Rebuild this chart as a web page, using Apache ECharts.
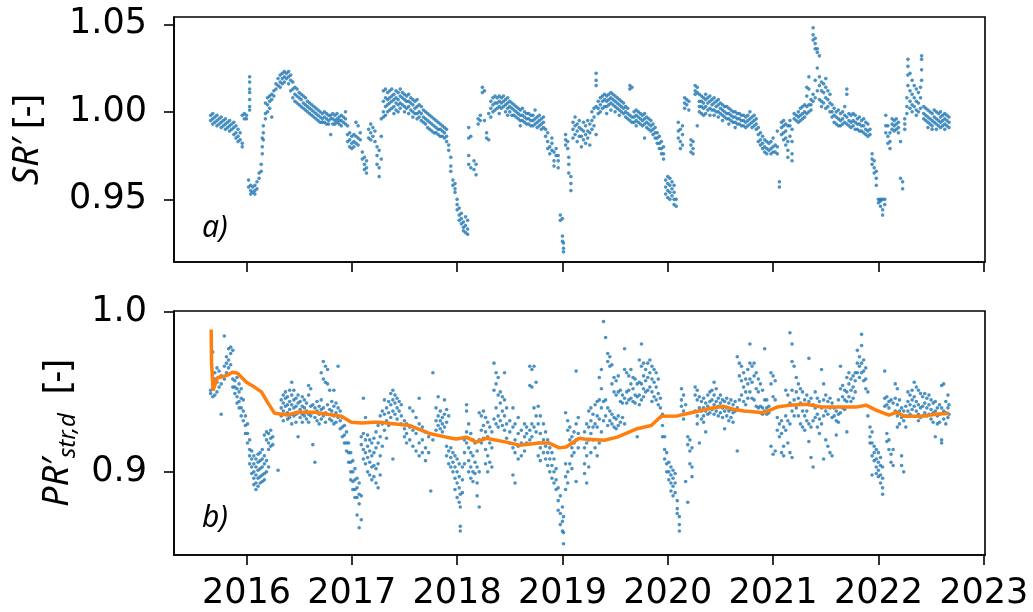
<!DOCTYPE html>
<html><head><meta charset="utf-8">
<script src="https://cdn.jsdelivr.net/npm/echarts@6/dist/echarts.min.js"></script>
<style>html,body{margin:0;padding:0;background:#fff}#c{width:1033px;height:612px}</style>
</head><body><div id="c"></div>
<script>
// ---- tick labels ----
const X_TICKS = [2016, 2017, 2018, 2019, 2020, 2021, 2022, 2023];
const SR_TICKS = [0.95, 1.00, 1.05];
const PR_TICKS = [0.9, 1.0];

// ---- SR' (top panel): rows of [decimal year, values observed at that date...] ----
const SR_2015 = [[2015.66,0.998,0.995],[2015.68,0.999,0.996,0.993],[2015.70,0.997,0.994],[2015.72,0.998,0.995,0.992],[2015.74,0.996,0.993],[2015.76,0.997,0.994,0.991],[2015.78,0.995,0.992],[2015.80,0.996,0.993,0.990],[2015.82,0.994,0.991],[2015.84,0.995,0.992,0.989],[2015.86,0.993,0.990],[2015.88,0.994,0.991,0.987],[2015.90,0.992,0.988,0.985],[2015.92,0.990,0.986,0.983],[2015.94,0.988,0.984],[2015.96,0.998,0.982,0.980],[2015.98,0.999,0.996]];
const SR_2016 = [[2016.00,0.998,0.996],[2016.02,0.961,0.957],[2016.03,1.020,1.017,1.013,1.011,1.007,1.003,1.001],[2016.04,0.958,0.955,0.953],[2016.06,0.957,0.954],[2016.08,0.958,0.955,0.953],[2016.10,0.960,0.956],[2016.12,0.965,0.962],[2016.14,0.970,0.966],[2016.15,0.985,0.980,0.976],[2016.16,0.992,0.988,0.984],[2016.18,1.005,0.999,0.996],[2016.20,1.008,1.004,1.000],[2016.22,1.009,1.006,1.002],[2016.24,1.010,1.007,0.997],[2016.26,1.012,1.009],[2016.28,1.016,1.013],[2016.30,1.019,1.015],[2016.32,1.021,1.017,1.014],[2016.34,1.022,1.019,1.016],[2016.36,1.023,1.020,1.017],[2016.38,1.022,1.019],[2016.40,1.023,1.020,1.016],[2016.42,1.021,1.018,1.012],[2016.44,1.017,1.013,1.008],[2016.46,1.014,1.010,1.006],[2016.48,1.013,1.009,1.005],[2016.50,1.011,1.008,1.004],[2016.52,1.010,1.007,1.003],[2016.54,1.009,1.005,1.002],[2016.56,1.008,1.004,1.001],[2016.58,1.006,1.003,1.000],[2016.60,1.005,1.002,0.999],[2016.62,1.004,1.001,0.998],[2016.64,1.003,1.000,0.997],[2016.66,1.002,0.999,0.996],[2016.68,1.001,0.998,0.995],[2016.70,1.000,0.997,0.994],[2016.72,0.999,0.996,0.994],[2016.74,1.000,0.997,0.994],[2016.76,0.999,0.996,0.993],[2016.78,0.998,0.995,0.993],[2016.80,0.998,0.996,0.987],[2016.82,0.999,0.996,0.993],[2016.84,0.998,0.995,0.993],[2016.86,0.999,0.996,0.994],[2016.88,0.997,0.995,0.993],[2016.90,0.998,0.995,0.992],[2016.92,0.997,0.994],[2016.94,1.000,0.996,0.993],[2016.96,0.992,0.987,0.983],[2016.98,0.988,0.984,0.980]];
const SR_2017 = [[2017.00,0.986,0.982,0.979],[2017.02,0.987,0.983,0.980],[2017.04,0.994,0.986,0.982],[2017.06,0.992,0.985,0.981],[2017.08,0.988,0.984],[2017.10,0.977,0.973],[2017.12,0.974,0.970,0.967],[2017.14,0.972,0.968,0.965],[2017.16,0.990,0.985],[2017.18,0.993,0.988,0.984],[2017.20,0.991,0.986],[2017.22,0.989,0.983],[2017.24,0.980,0.975,0.970],[2017.26,0.978,0.968,0.963],[2017.28,0.996,0.986,0.973],[2017.30,1.012,1.006,1.000,0.997],[2017.32,1.013,1.008,1.003,0.998],[2017.34,1.011,1.007,1.004,1.000],[2017.36,1.012,1.008,1.005,1.001],[2017.38,1.013,1.009,1.006,1.002],[2017.40,1.010,1.007,1.003,0.999],[2017.42,1.012,1.008,1.005,1.001],[2017.44,1.011,1.007,1.004,1.000],[2017.46,1.013,1.009,1.005,1.002],[2017.48,1.011,1.008,1.004],[2017.50,1.010,1.007,1.003,1.000],[2017.52,1.009,1.006,1.002],[2017.54,1.010,1.006,1.003,0.999],[2017.56,1.008,1.005,1.001],[2017.58,1.007,1.004,1.000,0.997],[2017.60,1.006,1.002,0.999],[2017.62,1.007,1.003,0.999,0.996],[2017.64,1.004,1.000,0.997],[2017.66,1.003,0.999,0.995],[2017.68,1.001,0.997,0.994],[2017.70,1.000,0.996,0.993],[2017.72,0.999,0.995,0.991],[2017.74,0.998,0.994,0.990],[2017.76,0.997,0.993,0.989],[2017.78,0.996,0.992,0.988],[2017.80,0.995,0.991,0.988],[2017.82,0.994,0.990,0.987],[2017.84,0.993,0.990,0.986],[2017.86,0.992,0.989,0.986],[2017.88,0.991,0.988,0.985],[2017.90,0.990,0.986,0.983],[2017.92,0.981,0.978],[2017.94,0.974,0.969,0.966],[2017.96,0.961,0.958],[2017.98,0.959,0.956,0.954]];
const SR_2018 = [[2018.00,0.950,0.947,0.944],[2018.02,0.945,0.941,0.938],[2018.04,0.942,0.939,0.936],[2018.06,0.937,0.934,0.932],[2018.08,0.940,0.935,0.931],[2018.10,0.938,0.933,0.930],[2018.11,0.991,0.985,0.975,0.970],[2018.13,0.986,0.968],[2018.16,0.972,0.967],[2018.18,0.970,0.964],[2018.20,0.996,0.993],[2018.22,0.998,0.995],[2018.24,1.014,1.011],[2018.26,1.012,0.995],[2018.28,0.988,0.985],[2018.30,0.984,0.999],[2018.32,1.006,1.002,0.997],[2018.34,1.008,1.004,1.000],[2018.36,1.009,1.005,1.001],[2018.38,1.008,1.005,1.002],[2018.40,1.009,1.006,1.003,0.999],[2018.42,1.008,1.005,1.002],[2018.44,1.009,1.006,1.003],[2018.46,1.007,1.004,1.000],[2018.48,1.008,1.005,1.002,0.998],[2018.50,1.006,1.003,1.000],[2018.52,1.005,1.002,0.998],[2018.54,1.004,1.001,0.998],[2018.56,1.003,1.000,0.997],[2018.58,1.002,0.999,0.996],[2018.60,1.001,0.998,0.995,0.992],[2018.62,1.002,0.998,0.995],[2018.64,1.000,0.997,0.994],[2018.66,0.999,0.996,0.993],[2018.68,0.999,0.996,0.993],[2018.70,0.998,0.995,0.992],[2018.72,0.998,0.995,0.992],[2018.74,1.001,0.996,0.993],[2018.76,0.997,0.994,0.991],[2018.78,0.998,0.995,0.992],[2018.80,0.996,0.993,0.990],[2018.82,0.997,0.994,0.991],[2018.84,0.990,0.986],[2018.86,0.988,0.983,0.979],[2018.88,0.980,0.976],[2018.90,0.985,0.982,0.978],[2018.92,0.977,0.972,0.969],[2018.94,0.979,0.975],[2018.96,0.975,0.972,0.968],[2018.98,0.941,0.938]];
const SR_2019 = [[2019.00,0.939,0.929,0.926],[2019.01,0.925,0.922,0.920],[2019.03,0.987,0.984,0.981],[2019.05,0.983,0.979],[2019.06,0.974,0.970,0.965],[2019.08,0.963,0.959,0.955],[2019.10,0.994,0.990,0.985],[2019.12,0.997,0.992,0.987],[2019.14,0.993,0.989,0.983],[2019.16,0.995,0.991,0.986],[2019.18,0.990,0.986,0.980],[2019.20,0.994,0.989,0.984],[2019.22,0.992,0.987,0.982],[2019.24,0.995,0.989,0.985],[2019.26,0.993,0.988,0.981],[2019.28,1.000,0.995,0.990],[2019.30,1.002,0.997,0.992],[2019.32,1.022,1.018,1.015,1.003,0.987],[2019.34,1.006,1.002,0.999],[2019.36,1.008,1.004,1.000],[2019.38,1.009,1.006,1.002],[2019.40,1.010,1.007,1.003],[2019.42,1.009,1.006,1.003,0.999],[2019.44,1.010,1.007,1.004],[2019.46,1.011,1.008,1.005,1.001],[2019.48,1.010,1.007,1.004],[2019.50,1.009,1.006,1.003,1.000],[2019.52,1.008,1.005,1.002],[2019.54,1.007,1.004,1.001,0.998],[2019.56,1.006,1.003,1.000],[2019.58,1.005,1.002,0.999],[2019.60,1.003,1.000,0.997],[2019.62,1.002,0.999,0.996],[2019.64,1.015,1.013,0.998,0.995],[2019.66,1.014,0.997,0.994],[2019.68,1.000,0.997,0.994],[2019.70,1.001,0.998,0.995,0.992],[2019.72,1.000,0.997,0.994],[2019.74,0.999,0.996,0.993],[2019.76,0.998,0.995,0.992],[2019.78,0.999,0.996,0.993,0.985],[2019.80,0.997,0.994,0.991],[2019.82,0.996,0.993,0.990],[2019.84,0.995,0.992,0.989],[2019.86,0.993,0.990,0.987],[2019.88,0.991,0.988,0.985],[2019.90,0.988,0.985,0.982],[2019.92,0.986,0.982,0.979],[2019.94,0.983,0.979,0.976],[2019.96,0.980,0.976,0.973],[2019.98,0.961,0.957,0.953]];
const SR_2020 = [[2020.00,0.963,0.959,0.955,0.951],[2020.02,0.962,0.958,0.954,0.950],[2020.04,0.960,0.956,0.952],[2020.06,0.958,0.954,0.950,0.947],[2020.08,0.950,0.946],[2020.10,0.994,0.989,0.985],[2020.12,0.990,0.983,0.979],[2020.14,0.992,0.987,0.981],[2020.16,1.008,1.005,1.002],[2020.18,1.007,1.004],[2020.20,1.006,1.001],[2020.22,0.984,0.981,0.977],[2020.24,0.983,0.979,0.976],[2020.26,1.015,1.012,1.010],[2020.28,1.014,1.011,0.992],[2020.30,1.010,1.006,1.003,1.000],[2020.32,1.009,1.006,1.003,0.999],[2020.34,1.008,1.005,1.002,0.998],[2020.36,1.010,1.007,1.003,0.999],[2020.38,1.008,1.005,1.001],[2020.40,1.009,1.006,1.002,0.998],[2020.42,1.007,1.004,1.001],[2020.44,1.008,1.005,1.001,0.998],[2020.46,1.006,1.003,1.000],[2020.48,1.007,1.004,1.000,0.997],[2020.50,1.005,1.002,0.999],[2020.52,1.004,1.001,0.998,0.995],[2020.54,1.003,1.000,0.997],[2020.56,1.003,0.999,0.996],[2020.58,1.002,0.999,0.996,0.993],[2020.60,1.001,0.998,0.995],[2020.62,1.000,0.997,0.994],[2020.64,1.000,0.997,0.994,0.991],[2020.66,0.999,0.996,0.993],[2020.68,0.999,0.996,0.993],[2020.70,0.998,0.995,0.992],[2020.72,0.998,0.995,0.992],[2020.74,0.997,0.994,0.991],[2020.76,0.998,0.995,0.992],[2020.78,1.000,0.996,0.993],[2020.80,0.997,0.994,0.991],[2020.82,0.998,0.995,0.992],[2020.84,0.996,0.993,0.990],[2020.86,0.991,0.987,0.983],[2020.88,0.988,0.984,0.981],[2020.90,0.986,0.982,0.979],[2020.92,0.984,0.980,0.977],[2020.94,0.983,0.979,0.976],[2020.96,0.982,0.978],[2020.98,0.983,0.979,0.976]];
const SR_2021 = [[2021.00,0.985,0.980,0.977],[2021.02,0.981,0.977],[2021.04,0.989,0.980,0.976],[2021.06,0.960,0.957],[2021.08,0.994,0.991,0.987],[2021.10,0.995,0.992,0.988,0.984],[2021.12,0.993,0.989,0.985,0.981],[2021.14,0.992,0.983,0.978,0.974],[2021.16,0.995,0.992,0.986],[2021.18,0.990,0.983,0.976,0.972],[2021.20,0.999,0.996],[2021.22,0.998,0.995],[2021.24,1.000,0.997,0.994],[2021.26,1.002,0.998,0.995],[2021.28,1.003,0.999,0.996],[2021.30,1.004,1.000,0.997],[2021.32,1.014,1.009,1.003,0.999],[2021.34,1.020,1.013,1.004,1.000],[2021.36,1.007,1.004,1.001],[2021.38,1.048,1.044,1.041,1.010,1.006],[2021.40,1.042,1.039,1.036,1.018,1.008],[2021.42,1.036,1.034,1.025,1.012],[2021.44,1.032,1.020,1.015,1.007],[2021.46,1.017,1.012,1.006,1.003],[2021.48,1.016,1.011,1.005],[2021.50,1.019,1.014,1.008,1.002],[2021.52,1.012,1.007,1.003],[2021.54,1.010,1.005,1.000],[2021.56,1.004,1.000,0.997],[2021.58,1.002,0.998,0.994],[2021.60,1.000,0.997,0.993],[2021.62,1.001,0.996,0.992],[2021.64,0.999,0.995,0.992],[2021.66,1.000,0.996,0.993],[2021.68,1.003,0.998,0.994],[2021.70,1.013,1.010,0.997,0.993],[2021.72,0.999,0.995,0.992],[2021.74,0.998,0.994,0.991],[2021.76,0.999,0.995,0.992],[2021.78,0.998,0.994,0.990],[2021.80,0.996,0.993,0.990],[2021.82,0.997,0.993,0.989],[2021.84,0.995,0.992,0.989],[2021.86,0.996,0.992,0.988],[2021.88,0.994,0.990,0.987],[2021.90,0.993,0.989,0.986],[2021.92,0.990,0.987],[2021.94,0.976,0.973,0.970],[2021.96,0.972,0.968,0.965],[2021.98,0.966,0.962,0.958]];
const SR_2022 = [[2022.00,0.950,0.948],[2022.02,0.950,0.949,0.946],[2022.04,0.950,0.944,0.941],[2022.06,0.950,0.947],[2022.07,0.998,0.992,0.988],[2022.09,0.992,0.986,0.982],[2022.11,0.988,0.983,0.979],[2022.13,0.996,0.993,0.990],[2022.15,0.995,0.992,0.989],[2022.17,0.996,0.993,0.990],[2022.19,0.994,0.991,0.988],[2022.21,0.983,0.962],[2022.23,0.960,0.956],[2022.25,0.996,0.993,0.990],[2022.27,1.008,1.003,0.999],[2022.28,1.030,1.026,1.021,1.015],[2022.30,1.022,1.012,1.006,1.002],[2022.32,1.018,1.010,1.004,1.000],[2022.34,1.015,1.008,1.003],[2022.36,1.013,1.006,1.001,0.998],[2022.38,1.011,1.005,1.000],[2022.40,1.014,1.008,1.002],[2022.41,1.032,1.030,1.024,1.018],[2022.43,1.003,0.999,0.996],[2022.45,1.002,0.998,0.995],[2022.47,1.001,0.997,0.994,0.991],[2022.49,1.000,0.996,0.993],[2022.51,0.999,0.995,0.992,0.990],[2022.53,1.001,0.997,0.994],[2022.55,1.000,0.996,0.993,0.990],[2022.57,0.999,0.995,0.992],[2022.59,1.000,0.997,0.994,0.991],[2022.61,0.998,0.995,0.992],[2022.63,0.999,0.996,0.993,0.990],[2022.65,0.998,0.995,0.992],[2022.67,0.997,0.994,0.991]];

// ---- PR'str,d (bottom panel) ----
const PR_2015 = [[2015.66,0.951,0.949],[2015.68,0.975,0.952,0.947],[2015.70,0.962,0.958,0.948],[2015.72,0.965,0.956,0.950],[2015.74,0.963,0.959,0.953],[2015.76,0.960,0.955,0.936],[2015.79,0.985,0.966,0.958],[2015.81,0.972,0.968,0.962],[2015.83,0.977,0.970,0.965],[2015.85,0.978,0.974,0.967],[2015.87,0.976,0.958,0.953],[2015.89,0.957,0.953,0.949],[2015.91,0.959,0.952,0.947,0.943],[2015.93,0.955,0.950,0.944,0.940],[2015.95,0.952,0.946,0.940,0.935],[2015.97,0.945,0.938,0.932],[2015.99,0.935,0.929,0.924]];
const PR_2016 = [[2016.01,0.930,0.924,0.918],[2016.03,0.920,0.914,0.910,0.905],[2016.05,0.913,0.908,0.903,0.899],[2016.07,0.910,0.905,0.900,0.896,0.892],[2016.09,0.908,0.903,0.898,0.893,0.889],[2016.11,0.911,0.906,0.901,0.896,0.891],[2016.13,0.912,0.907,0.902,0.897,0.893],[2016.15,0.914,0.908,0.903,0.898,0.894],[2016.17,0.923,0.910,0.905,0.899,0.895],[2016.19,0.925,0.920,0.907,0.900],[2016.21,0.924,0.918,0.914,0.903],[2016.23,0.926,0.921,0.916],[2016.25,0.922,0.917],[2016.30,0.901],[2016.33,0.945,0.940,0.935],[2016.35,0.948,0.943,0.938,0.932],[2016.37,0.950,0.946,0.941,0.936],[2016.39,0.947,0.942,0.937,0.933],[2016.41,0.951,0.944,0.939,0.934],[2016.43,0.956,0.948,0.942,0.936,0.930],[2016.45,0.951,0.945,0.940,0.935],[2016.47,0.946,0.941,0.936,0.931],[2016.49,0.948,0.943,0.937,0.922],[2016.51,0.944,0.939,0.934],[2016.53,0.947,0.941,0.936,0.931],[2016.55,0.945,0.940,0.935],[2016.57,0.943,0.938,0.933],[2016.59,0.954,0.948,0.936,0.931],[2016.61,0.952,0.941,0.935],[2016.63,0.942,0.937,0.917],[2016.65,0.940,0.934,0.906],[2016.67,0.944,0.938,0.932],[2016.69,0.941,0.936,0.930],[2016.71,0.962,0.945,0.939,0.933],[2016.73,0.969,0.958,0.940,0.935],[2016.75,0.966,0.956,0.937,0.931],[2016.77,0.964,0.955,0.942,0.936],[2016.79,0.951,0.939,0.933],[2016.81,0.944,0.938,0.932],[2016.83,0.951,0.941,0.935,0.930],[2016.85,0.943,0.937,0.931],[2016.87,0.966,0.940,0.934],[2016.89,0.938,0.932,0.927],[2016.91,0.934,0.928,0.922],[2016.93,0.929,0.923,0.918],[2016.95,0.925,0.918,0.913],[2016.97,0.918,0.912,0.906],[2016.99,0.912,0.906,0.900,0.895]];
const PR_2017 = [[2017.01,0.907,0.900,0.894,0.889],[2017.03,0.902,0.895,0.889,0.884],[2017.05,0.896,0.890,0.884,0.873],[2017.07,0.893,0.886,0.880,0.865],[2017.09,0.922,0.917,0.885,0.870],[2017.11,0.946,0.924,0.914,0.908],[2017.13,0.934,0.920,0.912,0.905],[2017.15,0.923,0.916,0.909,0.900],[2017.17,0.920,0.913,0.906,0.898],[2017.19,0.918,0.910,0.903,0.895],[2017.21,0.921,0.912,0.904,0.897],[2017.23,0.925,0.915,0.902,0.893],[2017.25,0.929,0.918,0.905,0.890],[2017.27,0.935,0.922,0.910,0.898],[2017.29,0.938,0.930,0.916],[2017.31,0.945,0.936,0.926],[2017.33,0.940,0.932,0.921],[2017.35,0.944,0.937,0.929],[2017.37,0.949,0.942,0.934],[2017.39,0.951,0.945,0.938,0.908],[2017.41,0.948,0.943,0.936],[2017.43,0.946,0.940,0.933],[2017.45,0.944,0.938],[2017.47,0.942,0.935,0.930],[2017.50,0.932,0.927,0.922],[2017.52,0.930,0.924,0.918],[2017.55,0.940,0.928,0.920],[2017.58,0.938,0.926,0.916],[2017.61,0.934,0.924,0.913],[2017.64,0.946,0.930,0.918,0.910],[2017.67,0.928,0.920,0.912],[2017.70,0.925,0.915,0.907],[2017.73,0.922,0.912],[2017.75,0.888],[2017.77,0.962,0.920],[2017.80,0.940,0.932,0.926],[2017.82,0.947,0.935,0.929],[2017.84,0.938,0.932,0.927],[2017.86,0.934,0.930,0.925],[2017.88,0.945,0.936,0.928],[2017.90,0.939,0.931,0.916,0.910],[2017.92,0.935,0.913,0.905],[2017.94,0.915,0.909,0.903],[2017.96,0.912,0.906,0.900],[2017.98,0.910,0.903,0.896,0.889]];
const PR_2018 = [[2018.00,0.908,0.900,0.893,0.884],[2018.02,0.905,0.897,0.890,0.881],[2018.03,0.886,0.878,0.866,0.863],[2018.05,0.903,0.895,0.887],[2018.07,0.920,0.912,0.905],[2018.09,0.942,0.938,0.925,0.918],[2018.11,0.930,0.915,0.907,0.900],[2018.13,0.924,0.912,0.903,0.896],[2018.15,0.920,0.910,0.900,0.894],[2018.17,0.918,0.906,0.899],[2018.19,0.913,0.903,0.893,0.885],[2018.21,0.937,0.920,0.900,0.878],[2018.23,0.935,0.926,0.918],[2018.25,0.938,0.929,0.921],[2018.27,0.934,0.925,0.914,0.905],[2018.29,0.931,0.922,0.910,0.900],[2018.31,0.928,0.918,0.906],[2018.33,0.925,0.915,0.903],[2018.35,0.968,0.951,0.933],[2018.37,0.962,0.955,0.940,0.930],[2018.39,0.959,0.948,0.935,0.928],[2018.41,0.950,0.943,0.932],[2018.43,0.947,0.938,0.929],[2018.45,0.962,0.945,0.935,0.926],[2018.47,0.940,0.930,0.921],[2018.50,0.932,0.925,0.918],[2018.53,0.940,0.928,0.915,0.898],[2018.55,0.930,0.920,0.912,0.893],[2018.58,0.934,0.924,0.916,0.908],[2018.61,0.926,0.918,0.910],[2018.64,0.930,0.922,0.913],[2018.66,0.928,0.924,0.918],[2018.69,0.966,0.954,0.926,0.920],[2018.71,0.964,0.953,0.930,0.922],[2018.73,0.966,0.940,0.928],[2018.75,0.956,0.935,0.925],[2018.77,0.941,0.930,0.918,0.910],[2018.79,0.935,0.924,0.915,0.907],[2018.82,0.930,0.920,0.912],[2018.84,0.925,0.916,0.908],[2018.86,0.920,0.912,0.904],[2018.88,0.915,0.908,0.900],[2018.90,0.912,0.904,0.896],[2018.92,0.908,0.900,0.893],[2018.94,0.902,0.895,0.889],[2018.96,0.890,0.882,0.876],[2018.98,0.885,0.874,0.867]];
const PR_2019 = [[2019.00,0.878,0.869,0.863],[2019.01,0.872,0.862,0.855],[2019.03,0.937,0.905,0.897,0.889],[2019.05,0.932,0.926,0.900,0.893],[2019.07,0.928,0.920,0.905],[2019.09,0.922,0.915,0.910,0.902],[2019.11,0.925,0.918,0.912],[2019.13,0.963,0.930,0.920,0.894],[2019.15,0.934,0.924,0.915],[2019.21,0.925,0.915,0.905,0.899],[2019.23,0.930,0.918,0.910,0.893],[2019.25,0.938,0.928,0.920,0.903],[2019.27,0.940,0.932,0.924,0.912],[2019.29,0.936,0.928,0.920],[2019.31,0.942,0.930,0.915],[2019.33,0.944,0.935,0.928,0.910],[2019.35,0.959,0.945,0.933,0.918],[2019.37,0.964,0.952,0.940,0.925],[2019.39,0.994,0.944,0.932],[2019.41,0.984,0.945,0.935],[2019.43,0.974,0.969,0.940,0.929],[2019.45,0.972,0.966,0.938,0.932],[2019.47,0.967,0.955,0.936,0.930],[2019.49,0.959,0.950,0.934,0.928],[2019.51,0.957,0.948,0.933,0.927],[2019.53,0.960,0.950,0.935,0.929],[2019.55,0.951,0.944,0.931],[2019.57,0.948,0.943,0.934],[2019.59,0.977,0.964,0.946,0.930],[2019.61,0.962,0.950,0.943],[2019.63,0.960,0.951,0.945],[2019.65,0.964,0.955,0.946],[2019.67,0.959,0.952,0.944],[2019.69,0.958,0.948,0.943],[2019.71,0.955,0.947,0.922],[2019.73,0.970,0.956,0.948,0.942],[2019.75,0.980,0.966,0.955,0.945],[2019.77,0.968,0.960,0.952,0.947],[2019.79,0.964,0.957,0.950],[2019.81,0.968,0.959,0.951],[2019.83,0.970,0.962,0.953],[2019.85,0.966,0.958,0.950,0.944],[2019.87,0.964,0.956,0.947],[2019.89,0.962,0.953,0.945],[2019.91,0.958,0.949,0.942],[2019.93,0.946,0.940,0.934],[2019.95,0.936,0.929,0.922],[2019.97,0.922,0.914,0.908],[2019.99,0.912,0.905,0.900]];
const PR_2020 = [[2020.01,0.906,0.900,0.895],[2020.03,0.903,0.898,0.893,0.888],[2020.05,0.901,0.896,0.891,0.885],[2020.07,0.899,0.893,0.887],[2020.09,0.882,0.877,0.874],[2020.11,0.872,0.867,0.863],[2020.13,0.952,0.945,0.941],[2020.15,0.948,0.938,0.933],[2020.17,0.942,0.894],[2020.19,0.881,0.922,0.917],[2020.21,0.920,0.913,0.905],[2020.23,0.915,0.903,0.897],[2020.26,0.953,0.948,0.938],[2020.28,0.951,0.945,0.935,0.930],[2020.30,0.947,0.940,0.918],[2020.32,0.944,0.938,0.933],[2020.34,0.946,0.940,0.935,0.931],[2020.36,0.943,0.938,0.925],[2020.38,0.948,0.941,0.936],[2020.40,0.950,0.944,0.937],[2020.42,0.951,0.945,0.939],[2020.44,0.956,0.948,0.942,0.936],[2020.46,0.952,0.944,0.938],[2020.48,0.946,0.941,0.935],[2020.50,0.948,0.943,0.937],[2020.52,0.945,0.940,0.934],[2020.54,0.944,0.938,0.927],[2020.56,0.946,0.940,0.935],[2020.58,0.943,0.938,0.932],[2020.60,0.945,0.939,0.934],[2020.62,0.942,0.937,0.931],[2020.64,0.944,0.938],[2020.66,0.972,0.940,0.913],[2020.68,0.968,0.960,0.945],[2020.70,0.966,0.957,0.948],[2020.72,0.962,0.953,0.944],[2020.74,0.958,0.950,0.942],[2020.76,0.964,0.955,0.946],[2020.78,0.980,0.968,0.958,0.950],[2020.80,0.966,0.956,0.946],[2020.82,0.968,0.960,0.945],[2020.84,0.962,0.952,0.941],[2020.86,0.958,0.950,0.940],[2020.88,0.955,0.941,0.937],[2020.90,0.951,0.940,0.936],[2020.92,0.977,0.945,0.938],[2020.94,0.945,0.940,0.936],[2020.96,0.941,0.937],[2020.98,0.962,0.955,0.916]];
const PR_2021 = [[2021.00,0.960,0.947,0.911],[2021.02,0.957,0.945,0.913],[2021.04,0.934,0.926],[2021.06,0.930,0.922],[2021.08,0.932,0.924,0.912],[2021.10,0.928,0.916,0.910],[2021.12,0.951,0.935,0.926],[2021.14,0.948,0.932,0.918],[2021.16,0.987,0.943,0.930,0.912],[2021.18,0.980,0.969,0.951,0.938,0.909],[2021.20,0.966,0.945,0.935],[2021.22,0.959,0.950,0.940],[2021.24,0.955,0.946,0.935],[2021.26,0.952,0.943,0.930],[2021.28,0.950,0.938,0.928],[2021.30,0.945,0.935,0.926],[2021.32,0.948,0.938,0.932],[2021.34,0.971,0.944,0.930,0.919],[2021.36,0.946,0.928,0.909],[2021.38,0.942,0.932,0.903],[2021.40,0.950,0.940,0.934],[2021.42,0.946,0.936,0.928],[2021.44,0.944,0.933,0.924],[2021.46,0.964,0.940,0.930],[2021.48,0.955,0.945,0.935,0.908],[2021.50,0.948,0.938,0.920],[2021.52,0.944,0.936,0.916],[2021.54,0.946,0.940,0.912],[2021.56,0.943,0.934,0.910],[2021.58,0.940,0.935],[2021.60,0.938,0.932,0.923],[2021.62,0.945,0.936,0.931],[2021.64,0.966,0.952,0.937],[2021.66,0.954,0.947,0.940],[2021.68,0.951,0.945,0.939],[2021.70,0.959,0.950,0.944,0.925],[2021.72,0.962,0.955,0.947],[2021.74,0.958,0.951,0.944],[2021.76,0.960,0.953,0.946],[2021.78,0.962,0.957,0.950],[2021.80,0.976,0.968,0.962],[2021.82,0.972,0.966,0.959],[2021.84,0.986,0.979,0.968,0.962],[2021.86,0.970,0.963,0.957],[2021.88,0.965,0.958,0.952],[2021.90,0.950,0.935],[2021.92,0.928,0.922,0.918],[2021.94,0.925,0.918,0.910,0.898],[2021.96,0.916,0.912,0.907],[2021.98,0.914,0.908,0.903,0.899]];
const PR_2022 = [[2022.00,0.912,0.906,0.901,0.897],[2022.02,0.909,0.904,0.898,0.893],[2022.04,0.903,0.896,0.890,0.886],[2022.06,0.963,0.946,0.941],[2022.08,0.947,0.942,0.924,0.919],[2022.10,0.944,0.940,0.920,0.914],[2022.12,0.945,0.911,0.906],[2022.14,0.943,0.914,0.904],[2022.16,0.955,0.946,0.938],[2022.18,0.952,0.942,0.935,0.928],[2022.20,0.945,0.938,0.930],[2022.22,0.940,0.934,0.910,0.904],[2022.24,0.938,0.932,0.900],[2022.26,0.941,0.935,0.928],[2022.28,0.950,0.944,0.938],[2022.30,0.948,0.942,0.936],[2022.32,0.951,0.945,0.939],[2022.34,0.956,0.947,0.941],[2022.36,0.953,0.944,0.938],[2022.38,0.951,0.942,0.936,0.932],[2022.40,0.949,0.940,0.934],[2022.42,0.947,0.941,0.935],[2022.44,0.949,0.943,0.937],[2022.46,0.946,0.940,0.935],[2022.48,0.948,0.942,0.936],[2022.50,0.945,0.939,0.933],[2022.52,0.943,0.937,0.931],[2022.54,0.944,0.938,0.922],[2022.56,0.940,0.935,0.930],[2022.58,0.942,0.936,0.931],[2022.60,0.954,0.940,0.920,0.918],[2022.62,0.955,0.938,0.933],[2022.64,0.944,0.937,0.930],[2022.66,0.948,0.940,0.934],[2022.67,0.942,0.936]];

// ---- PR'str,d trend line (orange) ----
const PR_TREND = [[2015.665,0.989],[2015.668,0.969],[2015.676,0.969],[2015.683,0.951],[2015.725,0.959],[2015.772,0.9595],[2015.820,0.9605],[2015.867,0.9623],[2015.915,0.9617],[2016.000,0.956],[2016.076,0.953],[2016.142,0.950],[2016.199,0.9436],[2016.266,0.9367],[2016.389,0.9355],[2016.484,0.9373],[2016.645,0.9373],[2016.769,0.936],[2016.901,0.9348],[2016.996,0.931],[2017.091,0.9305],[2017.214,0.931],[2017.262,0.931],[2017.547,0.929],[2017.736,0.924],[2017.898,0.9217],[2017.992,0.9205],[2018.087,0.9217],[2018.182,0.9186],[2018.277,0.921],[2018.467,0.9186],[2018.590,0.9167],[2018.780,0.918],[2018.875,0.918],[2018.970,0.915],[2019.036,0.9155],[2019.159,0.921],[2019.207,0.9205],[2019.397,0.9198],[2019.520,0.9217],[2019.710,0.927],[2019.843,0.929],[2019.937,0.9348],[2020.089,0.935],[2020.222,0.937],[2020.412,0.9398],[2020.535,0.941],[2020.630,0.939],[2020.725,0.938],[2020.915,0.937],[2021.038,0.9405],[2021.152,0.9417],[2021.313,0.9423],[2021.465,0.9405],[2021.626,0.9405],[2021.787,0.9405],[2021.882,0.9417],[2021.977,0.9386],[2022.100,0.9355],[2022.176,0.9373],[2022.243,0.9348],[2022.414,0.9348],[2022.546,0.936],[2022.670,0.9367]];

// ---- build ----
const toPts = rows => rows.flatMap(r => r.slice(1).map(v => [r[0], v]));
const SR_PTS = [SR_2015, SR_2016, SR_2017, SR_2018, SR_2019, SR_2020, SR_2021, SR_2022].flatMap(toPts);
const PR_PTS = [PR_2015, PR_2016, PR_2017, PR_2018, PR_2019, PR_2020, PR_2021, PR_2022].flatMap(toPts);

const TFONT = '"DejaVu Sans", sans-serif';
const NFONT = '"Noto Sans", "Open Sans", sans-serif';
const BLACK = '#000';
const X_MIN = 2015.312, X_MAX = 2023.012;

function xAxis(gi, labels) {
  return {
    type: 'value', gridIndex: gi, min: X_MIN, max: X_MAX,
    axisLine: { show: true, onZero: false, lineStyle: { color: BLACK, width: 1.6 } },
    axisTick: { show: true, length: 10, customValues: X_TICKS, lineStyle: { color: BLACK, width: 1.6 } },
    axisLabel: { show: labels, customValues: X_TICKS, formatter: v => String(Math.round(v)),
      fontFamily: TFONT, fontSize: 35, color: BLACK, margin: 21 },
    splitLine: { show: false }
  };
}
function yAxis(gi, min, max, ticks, dec, name, gap, rich) {
  return {
    type: 'value', gridIndex: gi, min: min, max: max,
    axisLine: { show: true, onZero: false, lineStyle: { color: BLACK, width: 1.6 } },
    axisTick: { show: true, length: 10, customValues: ticks, lineStyle: { color: BLACK, width: 1.6 } },
    axisLabel: { customValues: ticks, formatter: v => v.toFixed(dec),
      fontFamily: TFONT, fontSize: 35, color: BLACK, margin: 27 },
    splitLine: { show: false },
    name: name, nameLocation: 'middle', nameRotate: 90, nameGap: gap,
    nameTextStyle: { fontFamily: NFONT, fontSize: 36, color: BLACK, rich: rich }
  };
}

const chart = echarts.init(document.getElementById('c'), null, { renderer: 'canvas' });
chart.setOption({
  animation: false,
  backgroundColor: '#fff',
  grid: [
    { left: 174, top: 17, width: 811, height: 245, show: true, borderColor: BLACK, borderWidth: 1.6, backgroundColor: 'transparent' },
    { left: 174, top: 311, width: 811, height: 244, show: true, borderColor: BLACK, borderWidth: 1.6, backgroundColor: 'transparent' }
  ],
  xAxis: [xAxis(0, false), xAxis(1, true)],
  yAxis: [
    yAxis(0, 0.9142, 1.0542, SR_TICKS, 2, '{i|SR′}{n| [-]}', 128, {
      i: { fontFamily: NFONT, fontSize: 36, fontStyle: 'italic', color: BLACK },
      n: { fontFamily: NFONT, fontSize: 36, color: BLACK }
    }),
    yAxis(1, 0.848, 1.0006, PR_TICKS, 1, '{i|PR′}{s|str,d}{n|  [-]}', 97, {
      i: { fontFamily: NFONT, fontSize: 36, fontStyle: 'italic', color: BLACK, verticalAlign: 'top', lineHeight: 36 },
      s: { fontFamily: NFONT, fontSize: 24, fontStyle: 'italic', color: BLACK, verticalAlign: 'top', lineHeight: 24, padding: [17, 0, 0, 0] },
      n: { fontFamily: NFONT, fontSize: 36, color: BLACK, verticalAlign: 'top', lineHeight: 36 }
    })
  ],
  graphic: [
    { type: 'text', left: 202, top: 213, style: { text: 'a)', font: 'italic 30px "Noto Sans"', fill: BLACK } },
    { type: 'text', left: 202, top: 503, style: { text: 'b)', font: 'italic 30px "Noto Sans"', fill: BLACK } }
  ],
  series: [
    { type: 'scatter', xAxisIndex: 0, yAxisIndex: 0, data: SR_PTS, symbolSize: 3.6,
      itemStyle: { color: '#1f77b4' }, silent: true },
    { type: 'scatter', xAxisIndex: 1, yAxisIndex: 1, data: PR_PTS, symbolSize: 3.6,
      itemStyle: { color: '#1f77b4' }, silent: true },
    { type: 'line', xAxisIndex: 1, yAxisIndex: 1, data: PR_TREND, showSymbol: false, z: 5,
      lineStyle: { color: '#ff7f0e', width: 3.5 }, silent: true }
  ]
});
</script>
</body></html>
